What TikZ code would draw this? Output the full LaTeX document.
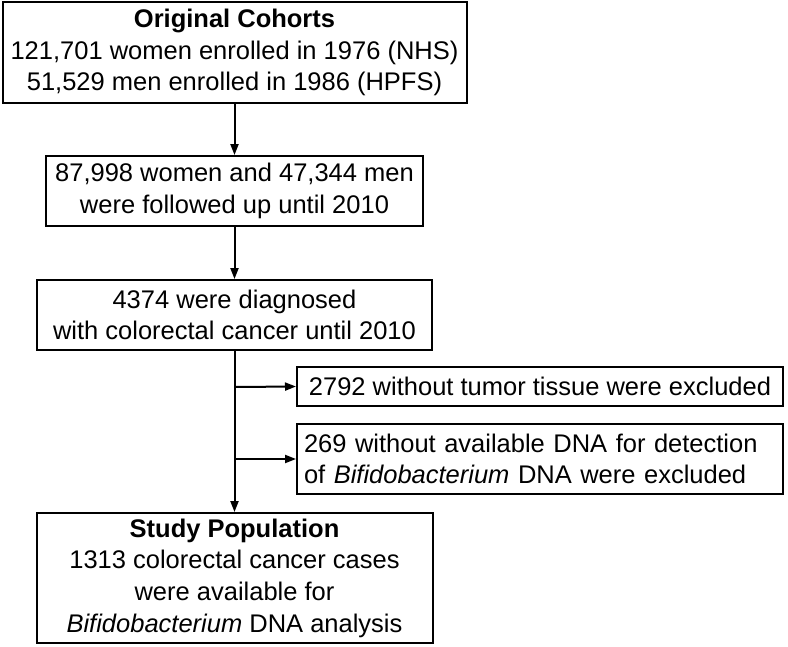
\documentclass[tikz,border=0pt]{standalone}
\usepackage{fontspec}
\setmainfont{Liberation Sans}
\usetikzlibrary{arrows.meta}
\begin{document}
\begin{tikzpicture}[x=1pt,y=-1pt,
  box/.style={draw,line width=2pt,rectangle,inner sep=0pt,align=center,
    font=\fontsize{25.5}{31.6}\selectfont},
  arr/.style={line width=2pt,-{Triangle[length=11pt,width=8pt]}}]
\useasboundingbox (0,0) rectangle (788,646);
\node[box,minimum width=464pt,minimum height=101pt] (b1) at (234.5,52.5)
  {\textbf{Original Cohorts}\\121,701 women enrolled in 1976 (NHS)\\51,529 men enrolled in 1986 (HPFS)};
\node[box,minimum width=377pt,minimum height=70pt] (b2) at (234.5,191)
  {87,998 women and 47,344 men\\were followed up until 2010};
\node[box,minimum width=395pt,minimum height=70pt] (b3) at (234.5,315)
  {4374 were diagnosed\\with colorectal cancer until 2010};
\node[box,minimum width=486pt,minimum height=39pt] (s1) at (540,386.5)
  {2792 without tumor tissue were excluded};
\node[box,minimum width=486pt,minimum height=70pt,align=left,text width=472pt] (s2) at (540,459)
  {269 without available DNA for detection\\of \textit{Bifidobacterium} DNA were excluded};
\node[box,minimum width=396pt,minimum height=130pt] (b4) at (234.5,578)
  {\textbf{Study Population}\\1313 colorectal cancer cases\\were available for\\\textit{Bifidobacterium} DNA analysis};
\coordinate (j1) at (234.5,387);
\coordinate (j2) at (234.5,459);
\draw[arr] (b1.south) -- (b2.north);
\draw[arr] (b2.south) -- (b3.north);
\draw[arr] (b3.south) -- (b4.north);
\draw[arr] (j1) -- (s1.west);
\draw[arr] (j2) -- (s2.west);
\end{tikzpicture}
\end{document}
